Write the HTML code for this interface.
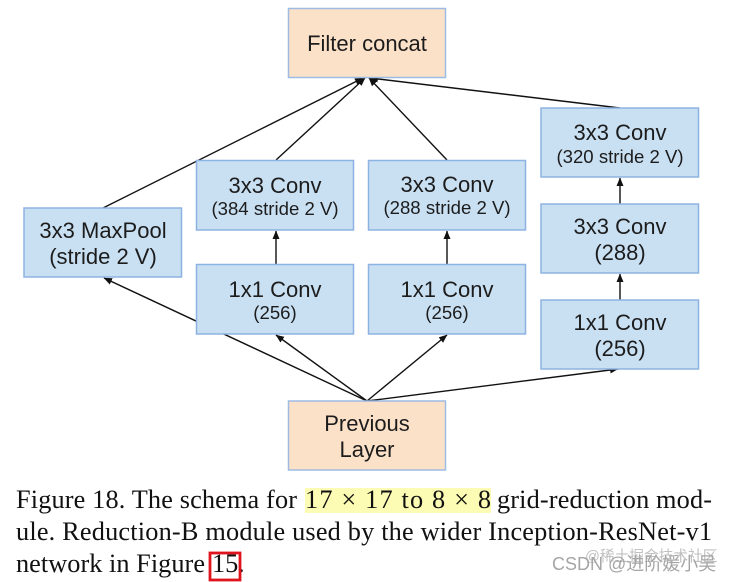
<!DOCTYPE html>
<html><head><meta charset="utf-8">
<style>
html,body{margin:0;padding:0;background:#fff;width:732px;height:582px;overflow:hidden}
svg{display:block;filter:blur(0.35px)}
.n{font-family:"Liberation Sans",Arial,sans-serif;text-anchor:middle;fill:#1c1c1c}
.a{font-size:22px}
.b{font-size:18.6px}
.c{font-family:"Liberation Serif","Times New Roman",serif;font-size:26.3px;fill:#111}
rect.bl{fill:#c9e0f3;stroke:#8db3e2;stroke-width:1.5}
rect.or{fill:#fce1c9;stroke:#9dbbe3;stroke-width:1.5}
line{stroke:#111;stroke-width:1.4}
.wm{font-family:"Liberation Sans","Noto Sans CJK SC",sans-serif;fill:#a5a5a5}
</style></head><body>
<svg width="732" height="582" viewBox="0 0 732 582" xmlns="http://www.w3.org/2000/svg">
<defs><marker id="h" markerUnits="userSpaceOnUse" markerWidth="10" markerHeight="8" refX="8" refY="4" orient="auto"><path d="M0 0.5L8.5 4L0 7.5Z" fill="#111"/></marker></defs>

<line x1="103" y1="208" x2="363" y2="78" marker-end="url(#h)"/>
<line x1="276" y1="160" x2="365" y2="78" marker-end="url(#h)"/>
<line x1="447" y1="160" x2="369" y2="78" marker-end="url(#h)"/>
<line x1="620" y1="108" x2="370" y2="78" marker-end="url(#h)"/>
<line x1="276" y1="264" x2="276" y2="231" marker-end="url(#h)"/>
<line x1="447" y1="264" x2="447" y2="231" marker-end="url(#h)"/>
<line x1="620" y1="204" x2="620" y2="178" marker-end="url(#h)"/>
<line x1="620" y1="300" x2="620" y2="274" marker-end="url(#h)"/>
<line x1="367" y1="401" x2="104" y2="278" marker-end="url(#h)"/>
<line x1="367" y1="401" x2="276" y2="335" marker-end="url(#h)"/>
<line x1="367" y1="401" x2="447" y2="335" marker-end="url(#h)"/>
<line x1="367" y1="401" x2="618" y2="369" marker-end="url(#h)"/>

<rect class="or" x="288.5" y="8.5" width="157" height="69"/>
<rect class="bl" x="196.5" y="160.5" width="157" height="69.5"/>
<rect class="bl" x="368.5" y="160.5" width="157" height="69.5"/>
<rect class="bl" x="541" y="108" width="157.5" height="69"/>
<rect class="bl" x="541" y="204" width="157.5" height="69"/>
<rect class="bl" x="541" y="300" width="157.5" height="69"/>
<rect class="bl" x="196.5" y="264.5" width="157" height="69.5"/>
<rect class="bl" x="368.5" y="264.5" width="157" height="69.5"/>
<rect class="bl" x="24" y="208" width="157.5" height="69"/>
<rect class="or" x="288.5" y="401" width="157" height="69"/>

<text class="n a" x="367" y="51">Filter concat</text>
<text class="n a" x="275" y="193">3x3 Conv</text>
<text class="n b" x="275" y="215">(384 stride 2 V)</text>
<text class="n a" x="447" y="192">3x3 Conv</text>
<text class="n b" x="447" y="214">(288 stride 2 V)</text>
<text class="n a" x="620" y="140">3x3 Conv</text>
<text class="n b" x="620" y="163">(320 stride 2 V)</text>
<text class="n a" x="620" y="234">3x3 Conv</text>
<text class="n a" x="620" y="260">(288)</text>
<text class="n a" x="620" y="330">1x1 Conv</text>
<text class="n a" x="620" y="356">(256)</text>
<text class="n a" x="275" y="297">1x1 Conv</text>
<text class="n b" x="275" y="319">(256)</text>
<text class="n a" x="447" y="297">1x1 Conv</text>
<text class="n b" x="447" y="319">(256)</text>
<text class="n a" x="103" y="238">3x3 MaxPool</text>
<text class="n a" x="103" y="264">(stride 2 V)</text>
<text class="n a" x="367" y="431">Previous</text>
<text class="n a" x="367" y="457">Layer</text>

<rect x="305" y="488" width="186" height="25" fill="#fdfcb4"/>
<text class="c" x="16" y="508" textLength="281" lengthAdjust="spacing">Figure 18. The schema for</text>
<text class="c" x="305" y="508" textLength="186" lengthAdjust="spacing">17 × 17 to 8 × 8</text>
<text class="c" x="497" y="508" textLength="215" lengthAdjust="spacing">grid-reduction mod-</text>
<text class="c" x="16" y="540" textLength="696" lengthAdjust="spacing">ule. Reduction-B module used by the wider Inception-ResNet-v1</text>
<text class="c" x="16" y="572" textLength="189" lengthAdjust="spacing">network in Figure</text>
<text class="c" x="212" y="572">15</text>
<text class="c" x="238" y="572">.</text>
<rect x="210" y="553" width="30" height="27" fill="none" stroke="#e0141c" stroke-width="2.8"/>

<text class="wm" x="585" y="561" font-size="14.7" opacity="0.7">@稀土掘金技术社区</text>
<text class="wm" x="552" y="570" font-size="18">CSDN @进阶媛小吴</text>
</svg>
</body></html>
